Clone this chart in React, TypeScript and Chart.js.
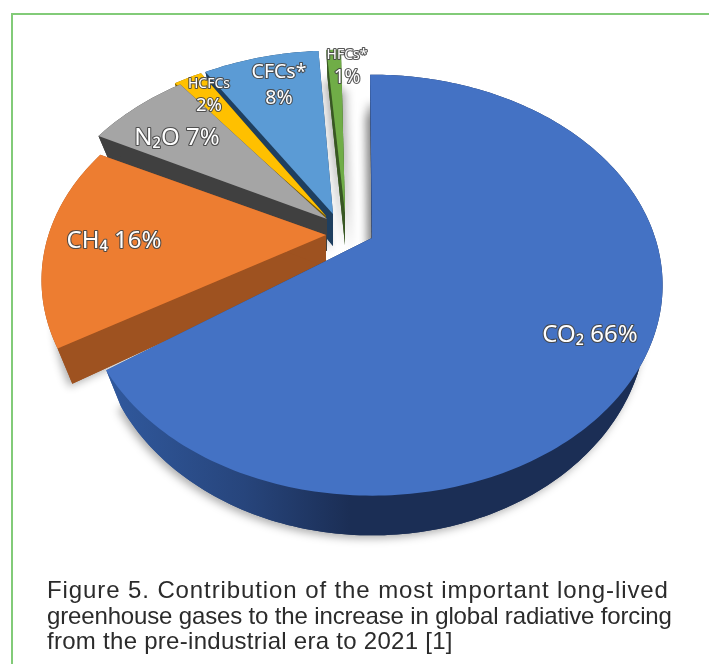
import { useEffect, useRef } from "react";
import { Chart, registerables } from "chart.js";

Chart.register(...registerables);

const gases = ["CO₂", "CH₄", "N₂O", "HCFCs", "CFCs*", "HFCs*"];
const shares = [66, 16, 7, 2, 8, 1];

const topColors = ["#4472c4", "#ed7d31", "#a5a5a5", "#ffc000", "#5b9bd5", "#70ad47"];
const wallColors = ["#1b2e55", "#9e5220", "#404040", "#7f6000", "#1f3f5f", "#385723"];

// Pulled-out slices: pixel shift, radial scale, turn in degrees, and how much
// of the camera's angular distortion each wedge takes
const sliceShift = [
  { dx: 0, dy: 0, s: 1, turn: 0, warp: 1.2 },
  { dx: -46, dy: -3, s: 0.98, turn: 1.5, warp: 0 },
  { dx: -45, dy: -19, s: 1, turn: 2, warp: 0 },
  { dx: -46, dy: -22, s: 1, turn: 0, warp: 0.3 },
  { dx: -39, dy: -24, s: 1, turn: 0, warp: 0 },
  { dx: -27, dy: -25, s: 1, turn: -1, warp: 0 },
];

// Label anchors in canvas pixels, with font sizes
const labelStyle = [
  { x: 590, y: 335, size: 24, twoLine: false },
  { x: 114, y: 241, size: 24, twoLine: false },
  { x: 177, y: 138, size: 24, twoLine: false },
  { x: 209, y: 84, size: 14, twoLine: true, size2: 18.5, gap: 22 },
  { x: 279, y: 72, size: 19.5, twoLine: true, size2: 19.5, gap: 26 },
  { x: 347, y: 55, size: 14, twoLine: true, size2: 19, gap: 23 },
];

const TILT_X = 1.19;
const TILT_Y = 0.84;
const PERSPECTIVE = 0.224;
const DEPTH = 32;
const BASE_X = 0.945;
const BASE_Y = 1.03;
const DEG = Math.PI / 180;
const WARP = 2.8 * DEG;
const WARP_CENTRE = 266 * DEG;

function project(arc: any, i: number, angle: number, radial: number, base: boolean) {
  const { dx, dy, s, turn, warp } = sliceShift[i];
  const straight = angle + Math.PI / 2;
  const theta = straight + turn * DEG + warp * WARP * Math.sin(2 * (straight - WARP_CENTRE));
  const u = radial * s * Math.sin(theta);
  const v = radial * s * Math.cos(theta);
  const d = 1 + PERSPECTIVE * v;
  let x = (arc.outerRadius * TILT_X * u) / d;
  let y = (-arc.outerRadius * TILT_Y * v) / d;
  if (base) {
    x *= BASE_X;
    y = y * BASE_Y + DEPTH;
  }
  return [arc.x + dx + x, arc.y + dy + y];
}

function arcAngles(arc: any) {
  const steps = Math.max(2, Math.ceil((arc.endAngle - arc.startAngle) / 0.02));
  const out: number[] = [];
  for (let k = 0; k <= steps; k++) out.push(arc.startAngle + ((arc.endAngle - arc.startAngle) * k) / steps);
  return out;
}

function facePath(ctx: CanvasRenderingContext2D, arc: any, i: number, base: boolean) {
  ctx.beginPath();
  const apex = project(arc, i, arc.startAngle, 0, base);
  ctx.moveTo(apex[0], apex[1]);
  for (const a of arcAngles(arc)) {
    const p = project(arc, i, a, 1, base);
    ctx.lineTo(p[0], p[1]);
  }
  ctx.closePath();
}

function quadPath(ctx: CanvasRenderingContext2D, pts: number[][]) {
  ctx.beginPath();
  pts.forEach((p, k) => (k ? ctx.lineTo(p[0], p[1]) : ctx.moveTo(p[0], p[1])));
  ctx.closePath();
}

const extrudedPie = {
  id: "extrudedPie",
  // The arcs are laid out by the pie controller; this replaces their flat drawing
  beforeDatasetsDraw(chart: any) {
    const ctx: CanvasRenderingContext2D = chart.ctx;
    const arcs = chart.getDatasetMeta(0).data;

    // Soft shadows falling into the gap between the last wedge and the first
    ctx.save();
    ctx.beginPath();
    ctx.rect(340, 85, 32, 175);
    ctx.clip();
    for (const [i, ox] of [[0, -5], [5, 6]] as number[][]) {
      ctx.save();
      ctx.shadowColor = "rgba(0,0,0,0.25)";
      ctx.shadowBlur = 8;
      ctx.shadowOffsetX = ox;
      ctx.shadowOffsetY = 40;
      ctx.fillStyle = topColors[i];
      facePath(ctx, arcs[i], i, false);
      ctx.fill();
      ctx.restore();
    }
    ctx.restore();

    const order = [5, 4, 3, 2, 1, 0];
    for (const i of order) {
      const arc = arcs[i];
      const angles = arcAngles(arc);
      let wall: any = wallColors[i];
      if (i === 0) {
        const g = ctx.createLinearGradient(115, 0, 350, 0);
        g.addColorStop(0, "#30589c");
        g.addColorStop(0.55, "#27457c");
        g.addColorStop(1, "#1b2e55");
        wall = g;
      }
      ctx.save();
      ctx.shadowColor = "rgba(0,0,0,0.32)";
      ctx.shadowBlur = 9;
      ctx.shadowOffsetX = -3;
      ctx.shadowOffsetY = 3;
      ctx.fillStyle = wall;
      facePath(ctx, arc, i, true);
      ctx.fill();
      ctx.restore();

      ctx.fillStyle = wall;
      for (const edge of [arc.startAngle, arc.endAngle]) {
        quadPath(ctx, [
          project(arc, i, edge, 0, false),
          project(arc, i, edge, 1, false),
          project(arc, i, edge, 1, true),
          project(arc, i, edge, 0, true),
        ]);
        ctx.fill();
      }
      const rim = [
        ...angles.map((a) => project(arc, i, a, 1, false)),
        ...angles.slice().reverse().map((a) => project(arc, i, a, 1, true)),
      ];
      quadPath(ctx, rim);
      ctx.fill();

      ctx.fillStyle = topColors[i];
      facePath(ctx, arc, i, false);
      ctx.fill();
    }
    return false;
  },
  afterDraw(chart: any) {
    const ctx: CanvasRenderingContext2D = chart.ctx;
    const values: number[] = chart.data.datasets[0].data;
    const names: string[] = chart.data.labels;
    const put = (text: string, x: number, y: number, size: number) => {
      ctx.font = `${size}px "Noto Sans", "Open Sans", sans-serif`;
      ctx.textAlign = "center";
      ctx.textBaseline = "middle";
      ctx.lineJoin = "round";
      ctx.lineWidth = 2.2;
      ctx.strokeStyle = "rgba(70,70,70,0.9)";
      ctx.strokeText(text, x, y);
      ctx.fillStyle = "#ffffff";
      ctx.fillText(text, x, y);
    };
    names.forEach((name, i) => {
      const l: any = labelStyle[i];
      if (l.twoLine) {
        put(name, l.x, l.y, l.size);
        put(`${values[i]}%`, l.x, l.y + l.gap, l.size2);
      } else {
        put(`${name} ${values[i]}%`, l.x, l.y, l.size);
      }
    });
  },
};

const captionLines = [
  { text: "Figure 5. Contribution of the most important long-lived", spacing: 0.9 },
  { text: "greenhouse gases to the increase in global radiative forcing", spacing: -0.15 },
  { text: "from the pre-industrial era to 2021 [1]", spacing: 0.28 },
];

export default function App() {
  const canvasRef = useRef<HTMLCanvasElement>(null);

  useEffect(() => {
    document.body.style.margin = "0";
    document.body.style.background = "#ffffff";
    const chart = new Chart(canvasRef.current!, {
      type: "pie",
      data: {
        labels: gases,
        datasets: [{ data: shares, backgroundColor: topColors, borderWidth: 0 }],
      },
      options: {
        animation: false,
        responsive: false,
        maintainAspectRatio: false,
        // Puts the pie's centre at (372, 238) with a radius of 238
        layout: { padding: { left: 134, right: 99, top: 0, bottom: 188 } },
        plugins: { legend: { display: false }, tooltip: { enabled: false } },
      },
      plugins: [extrudedPie],
    } as any);
    return () => chart.destroy();
  }, []);

  return (
    <div style={{ position: "relative", width: 709, height: 664, overflow: "hidden", background: "#fff" }}>
      <canvas ref={canvasRef} width={709} height={664} style={{ position: "absolute", left: 0, top: 0 }} />
      <div style={{ position: "absolute", left: 11, top: 13, width: 698, height: 651, borderLeft: "2px solid #82cb78", borderTop: "2px solid #82cb78" }} />
      <div style={{ position: "absolute", left: 47, top: 577, fontFamily: '"Liberation Sans", sans-serif', fontSize: 24, lineHeight: "25.5px", color: "#2b2b2b", whiteSpace: "nowrap" }}>
        {captionLines.map((l) => (
          <div key={l.text} style={{ letterSpacing: l.spacing }}>{l.text}</div>
        ))}
      </div>
    </div>
  );
}
